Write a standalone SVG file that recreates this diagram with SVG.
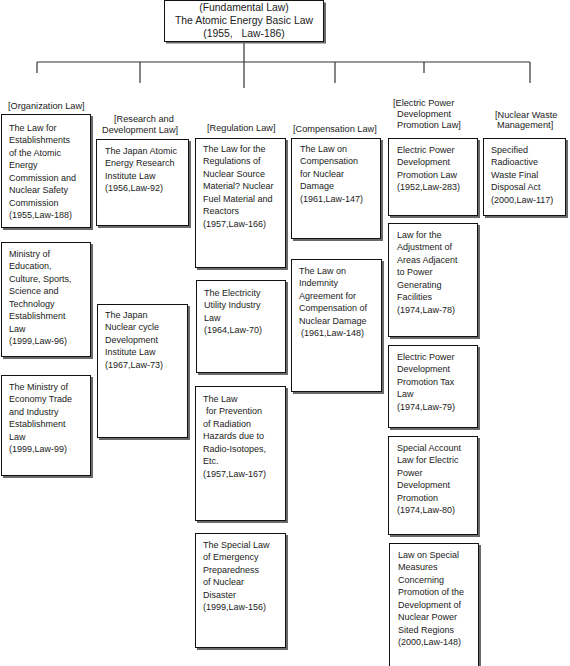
<svg xmlns="http://www.w3.org/2000/svg" width="570" height="666" viewBox="0 0 570 666">
<style>
.sh{fill:#6a6a6a}
.bx{fill:#fff;stroke:#111;stroke-width:1}
.t{font-family:"Liberation Sans",Arial,sans-serif;font-size:9px;fill:#222}
.lb{font-family:"Liberation Sans",Arial,sans-serif;font-size:9.2px;fill:#222}
.tt{font-family:"Liberation Sans",Arial,sans-serif;font-size:10.4px;fill:#222;text-anchor:middle}
.cn{stroke:#333;stroke-width:1.2;fill:none}
</style>
<rect width="570" height="666" fill="#fff"/>
<g id="connectors">
<line class="cn" x1="244" y1="42" x2="244" y2="88"/>
<line class="cn" x1="37" y1="62" x2="530" y2="62"/>
<line class="cn" x1="37" y1="62" x2="37" y2="73"/>
<line class="cn" x1="140" y1="62" x2="140" y2="83"/>
<line class="cn" x1="335" y1="62" x2="335" y2="83"/>
<line class="cn" x1="424" y1="62" x2="424" y2="73"/>
<line class="cn" x1="530" y1="62" x2="530" y2="83"/>
</g>
<g id="labels">
<text class="lb" x="8" y="108.5">[Organization Law]</text>
<text class="lb" x="114" y="121.5">[Research and</text>
<text class="lb" x="102" y="132.5">Development Law]</text>
<text class="lb" x="207" y="130.5">[Regulation Law]</text>
<text class="lb" x="293" y="131.5">[Compensation Law]</text>
<text class="lb" x="393" y="105.5">[Electric Power</text>
<text class="lb" x="397" y="116.5">Development</text>
<text class="lb" x="397" y="127.5">Promotion Law]</text>
<text class="lb" x="495" y="117.5">[Nuclear Waste</text>
<text class="lb" x="497" y="127.5">Management]</text>
</g>
<g id="top">
<rect class="sh" x="166" y="2.5" width="160" height="41"/>
<rect class="bx" x="164.5" y="0.5" width="159" height="41"/>
<text class="tt" x="244" y="11">(Fundamental Law)</text>
<text class="tt" x="244" y="24">The Atomic Energy Basic Law</text>
<text class="tt" x="244" y="37">(1955,&#160;&#160;&#160;Law-186)</text>
</g>
<g id="org1">
<rect class="sh" x="3" y="116" width="90" height="114"/>
<rect class="bx" x="1.5" y="114.5" width="89" height="113"/>
<text class="t" x="9" y="130.5"><tspan x="9">The Law for</tspan><tspan x="9" dy="12.5">Establishments</tspan><tspan x="9" dy="12.5">of the Atomic</tspan><tspan x="9" dy="12.5">Energy</tspan><tspan x="9" dy="12.5">Commission and</tspan><tspan x="9" dy="12.5">Nuclear Safety</tspan><tspan x="9" dy="12.5">Commission</tspan><tspan x="9" dy="12.5">(1955,Law-188)</tspan></text>
</g>
<g id="org2">
<rect class="sh" x="3" y="244" width="90" height="115"/>
<rect class="bx" x="1.5" y="242.5" width="89" height="114"/>
<text class="t" x="9" y="256.5"><tspan x="9">Ministry of</tspan><tspan x="9" dy="12.5">Education,</tspan><tspan x="9" dy="12.5">Culture, Sports,</tspan><tspan x="9" dy="12.5">Science and</tspan><tspan x="9" dy="12.5">Technology</tspan><tspan x="9" dy="12.5">Establishment</tspan><tspan x="9" dy="12.5">Law</tspan><tspan x="9" dy="12.5">(1999,Law-96)</tspan></text>
</g>
<g id="org3">
<rect class="sh" x="3" y="377" width="90" height="101"/>
<rect class="bx" x="1.5" y="375.5" width="89" height="100"/>
<text class="t" x="9" y="389.5"><tspan x="9">The Ministry of</tspan><tspan x="9" dy="12.5">Economy Trade</tspan><tspan x="9" dy="12.5">and Industry</tspan><tspan x="9" dy="12.5">Establishment</tspan><tspan x="9" dy="12.5">Law</tspan><tspan x="9" dy="12.5">(1999,Law-99)</tspan></text>
</g>
<g id="rd1">
<rect class="sh" x="98" y="141" width="93" height="87"/>
<rect class="bx" x="96.5" y="139.5" width="92" height="86"/>
<text class="t" x="105" y="153.5"><tspan x="105">The Japan Atomic</tspan><tspan x="105" dy="12.5">Energy Research</tspan><tspan x="105" dy="12.5">Institute Law</tspan><tspan x="105" dy="12.5">(1956,Law-92)</tspan></text>
</g>
<g id="rd2">
<rect class="sh" x="99" y="306" width="91" height="134"/>
<rect class="bx" x="97.5" y="304.5" width="90" height="133"/>
<text class="t" x="105" y="317.5"><tspan x="105">The Japan</tspan><tspan x="105" dy="12.5">Nuclear cycle</tspan><tspan x="105" dy="12.5">Development</tspan><tspan x="105" dy="12.5">Institute Law</tspan><tspan x="105" dy="12.5">(1967,Law-73)</tspan></text>
</g>
<g id="reg1">
<rect class="sh" x="197" y="140" width="91" height="130"/>
<rect class="bx" x="195.5" y="138.5" width="90" height="129"/>
<text class="t" x="203" y="151.5"><tspan x="203">The Law for the</tspan><tspan x="203" dy="12.5">Regulations of</tspan><tspan x="203" dy="12.5">Nuclear Source</tspan><tspan x="203" dy="12.5">Material? Nuclear</tspan><tspan x="203" dy="12.5">Fuel Material and</tspan><tspan x="203" dy="12.5">Reactors</tspan><tspan x="203" dy="12.5">(1957,Law-166)</tspan></text>
</g>
<g id="reg2">
<rect class="sh" x="198" y="282" width="90" height="93"/>
<rect class="bx" x="196.5" y="280.5" width="89" height="92"/>
<text class="t" x="204" y="295.5"><tspan x="204">The Electricity</tspan><tspan x="204" dy="12.5">Utility Industry</tspan><tspan x="204" dy="12.5">Law</tspan><tspan x="204" dy="12.5">(1964,Law-70)</tspan></text>
</g>
<g id="reg3">
<rect class="sh" x="197" y="388" width="91" height="135"/>
<rect class="bx" x="195.5" y="386.5" width="90" height="134"/>
<text class="t" x="203" y="401.5"><tspan x="203">The Law</tspan><tspan x="206" dy="12.5">for Prevention</tspan><tspan x="203" dy="12.5">of Radiation</tspan><tspan x="203" dy="12.5">Hazards due to</tspan><tspan x="203" dy="12.5">Radio-Isotopes,</tspan><tspan x="203" dy="12.5">Etc.</tspan><tspan x="203" dy="12.5">(1957,Law-167)</tspan></text>
</g>
<g id="reg4">
<rect class="sh" x="197" y="535" width="91" height="115"/>
<rect class="bx" x="195.5" y="533.5" width="90" height="114"/>
<text class="t" x="203" y="547.5"><tspan x="203">The Special Law</tspan><tspan x="203" dy="12.5">of Emergency</tspan><tspan x="203" dy="12.5">Preparedness</tspan><tspan x="203" dy="12.5">of Nuclear</tspan><tspan x="203" dy="12.5">Disaster</tspan><tspan x="203" dy="12.5">(1999,Law-156)</tspan></text>
</g>
<g id="comp1">
<rect class="sh" x="293" y="140" width="90" height="101"/>
<rect class="bx" x="291.5" y="138.5" width="89" height="100"/>
<text class="t" x="300" y="151.5"><tspan x="300">The Law on</tspan><tspan x="300" dy="12.5">Compensation</tspan><tspan x="300" dy="12.5">for Nuclear</tspan><tspan x="300" dy="12.5">Damage</tspan><tspan x="300" dy="12.5">(1961,Law-147)</tspan></text>
</g>
<g id="comp2">
<rect class="sh" x="293" y="261" width="91" height="133"/>
<rect class="bx" x="291.5" y="259.5" width="90" height="132"/>
<text class="t" x="299" y="273.5"><tspan x="299">The Law on</tspan><tspan x="299" dy="12.5">Indemnity</tspan><tspan x="299" dy="12.5">Agreement for</tspan><tspan x="299" dy="12.5">Compensation of</tspan><tspan x="299" dy="12.5">Nuclear Damage</tspan><tspan x="301" dy="12.5">(1961,Law-148)</tspan></text>
</g>
<g id="ep1">
<rect class="sh" x="390" y="140" width="90" height="78"/>
<rect class="bx" x="388.5" y="138.5" width="89" height="77"/>
<text class="t" x="397" y="152.5"><tspan x="397">Electric Power</tspan><tspan x="397" dy="12.5">Development</tspan><tspan x="397" dy="12.5">Promotion Law</tspan><tspan x="397" dy="12.5">(1952,Law-283)</tspan></text>
</g>
<g id="nw1">
<rect class="sh" x="485" y="140" width="83" height="78"/>
<rect class="bx" x="483.5" y="138.5" width="82" height="77"/>
<text class="t" x="491" y="152.5"><tspan x="491">Specified</tspan><tspan x="491" dy="12.5">Radioactive</tspan><tspan x="491" dy="12.5">Waste Final</tspan><tspan x="491" dy="12.5">Disposal Act</tspan><tspan x="491" dy="12.5">(2000,Law-117)</tspan></text>
</g>
<g id="ep2">
<rect class="sh" x="390" y="225" width="90" height="114"/>
<rect class="bx" x="388.5" y="223.5" width="89" height="113"/>
<text class="t" x="397" y="237.5"><tspan x="397">Law for the</tspan><tspan x="397" dy="12.5">Adjustment of</tspan><tspan x="397" dy="12.5">Areas Adjacent</tspan><tspan x="397" dy="12.5">to Power</tspan><tspan x="397" dy="12.5">Generating</tspan><tspan x="397" dy="12.5">Facilities</tspan><tspan x="397" dy="12.5">(1974,Law-78)</tspan></text>
</g>
<g id="ep3">
<rect class="sh" x="390" y="347" width="90" height="83"/>
<rect class="bx" x="388.5" y="345.5" width="89" height="82"/>
<text class="t" x="397" y="359.5"><tspan x="397">Electric Power</tspan><tspan x="397" dy="12.5">Development</tspan><tspan x="397" dy="12.5">Promotion Tax</tspan><tspan x="397" dy="12.5">Law</tspan><tspan x="397" dy="12.5">(1974,Law-79)</tspan></text>
</g>
<g id="ep4">
<rect class="sh" x="390" y="438" width="90" height="99"/>
<rect class="bx" x="388.5" y="436.5" width="89" height="98"/>
<text class="t" x="397" y="450.5"><tspan x="397">Special Account</tspan><tspan x="397" dy="12.5">Law for Electric</tspan><tspan x="397" dy="12.5">Power</tspan><tspan x="397" dy="12.5">Development</tspan><tspan x="397" dy="12.5">Promotion</tspan><tspan x="397" dy="12.5">(1974,Law-80)</tspan></text>
</g>
<g id="ep5">
<rect class="sh" x="391" y="545" width="90" height="130"/>
<rect class="bx" x="389.5" y="543.5" width="89" height="129"/>
<text class="t" x="398" y="557.5"><tspan x="398">Law on Special</tspan><tspan x="398" dy="12.5">Measures</tspan><tspan x="398" dy="12.5">Concerning</tspan><tspan x="398" dy="12.5">Promotion of the</tspan><tspan x="398" dy="12.5">Development of</tspan><tspan x="398" dy="12.5">Nuclear Power</tspan><tspan x="398" dy="12.5">Sited Regions</tspan><tspan x="398" dy="12.5">(2000,Law-148)</tspan></text>
</g>
</svg>
